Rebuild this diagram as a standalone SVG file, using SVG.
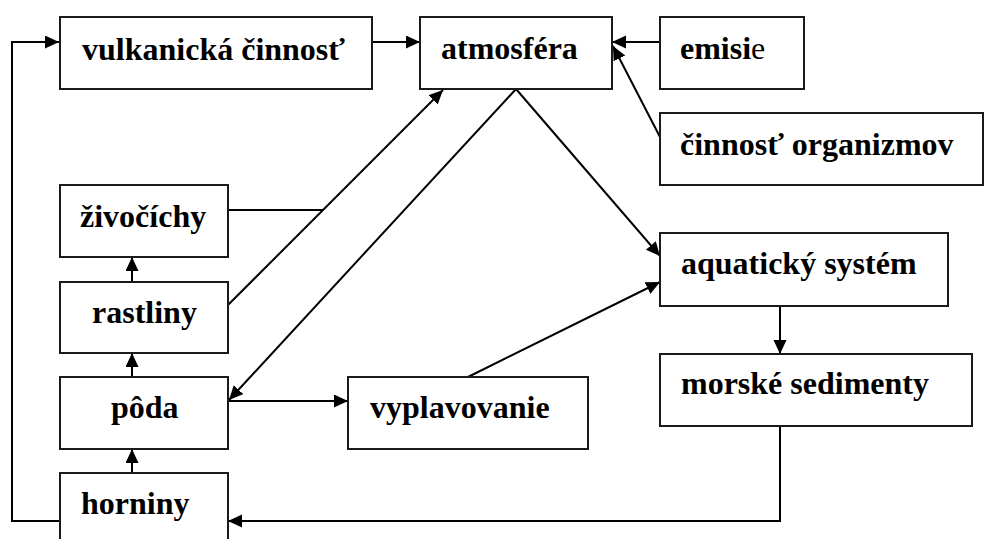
<svg xmlns="http://www.w3.org/2000/svg" width="984" height="539" viewBox="0 0 984 539">
  <style>
    .box { fill: #ffffff; stroke: #1a1a1a; stroke-width: 2; }
    text { font-family: 'Liberation Serif', 'DejaVu Serif', serif; font-size: 32px; font-weight: 700; fill: #000000; }
    tspan.reg { font-weight: 400; }
    .wire { fill: none; stroke: #000000; stroke-width: 2; }
  </style>
  <defs>
    <marker id="arrow" markerUnits="userSpaceOnUse" markerWidth="15" markerHeight="14" refX="14" refY="6.5" orient="auto">
      <path d="M0,0 L14,6.5 L0,13 Z" fill="#000000"/>
    </marker>
  </defs>

  <!-- connectors -->
  <g id="connectors">
    <path class="wire" d="M60,521 H12 V42 H59" marker-end="url(#arrow)"/>
    <path class="wire" d="M372,42 H420" marker-end="url(#arrow)"/>
    <path class="wire" d="M660,42 H612" marker-end="url(#arrow)"/>
    <path class="wire" d="M660,137 L613,46" marker-end="url(#arrow)"/>
    <path class="wire" d="M516,89 L660,256" marker-end="url(#arrow)"/>
    <path class="wire" d="M516,89 L229,400" marker-end="url(#arrow)"/>
    <path class="wire" d="M228,305 L443,90" marker-end="url(#arrow)"/>
    <path class="wire" d="M228,210 H323"/>
    <path class="wire" d="M228,401 H348" marker-end="url(#arrow)"/>
    <path class="wire" d="M468,377 L660,282" marker-end="url(#arrow)"/>
    <path class="wire" d="M780,306 V354" marker-end="url(#arrow)"/>
    <path class="wire" d="M780,426 V521 H228" marker-end="url(#arrow)"/>
    <path class="wire" d="M132,473 V449" marker-end="url(#arrow)"/>
    <path class="wire" d="M132,377 V353" marker-end="url(#arrow)"/>
    <path class="wire" d="M132,282 V257" marker-end="url(#arrow)"/>
  </g>

  <!-- nodes -->
  <g id="vulkanicka-cinnost">
    <rect class="box" x="60" y="17" width="312" height="72"/>
    <text x="82" y="60" font-family="Liberation Serif, serif">vulkanická činnosť</text>
  </g>
  <g id="atmosfera">
    <rect class="box" x="420" y="17" width="192" height="72"/>
    <text x="441" y="59" font-family="Liberation Serif, serif">atmosféra</text>
  </g>
  <g id="emisie">
    <rect class="box" x="660" y="17" width="144" height="72"/>
    <text x="680" y="59" font-family="Liberation Serif, serif">emisi<tspan class="reg">e</tspan></text>
  </g>
  <g id="cinnost-organizmov">
    <rect class="box" x="660" y="113" width="323" height="72"/>
    <text x="680" y="155" font-family="Liberation Serif, serif">činnosť organizmov</text>
  </g>
  <g id="zivocichy">
    <rect class="box" x="60" y="185" width="168" height="72"/>
    <text x="80" y="227" font-family="Liberation Serif, serif">živočíchy</text>
  </g>
  <g id="rastliny">
    <rect class="box" x="60" y="282" width="168" height="71"/>
    <text x="92" y="323" font-family="Liberation Serif, serif">rastliny</text>
  </g>
  <g id="poda">
    <rect class="box" x="60" y="377" width="168" height="72"/>
    <text x="111" y="418" font-family="Liberation Serif, serif">pôda</text>
  </g>
  <g id="horniny">
    <rect class="box" x="60" y="473" width="168" height="80"/>
    <text x="81" y="514" font-family="Liberation Serif, serif">horniny</text>
  </g>
  <g id="vyplavovanie">
    <rect class="box" x="348" y="377" width="240" height="72"/>
    <text x="370" y="418" font-family="Liberation Serif, serif">vyplavovanie</text>
  </g>
  <g id="aquaticky-system">
    <rect class="box" x="660" y="233" width="288" height="73"/>
    <text x="681" y="274" font-family="Liberation Serif, serif">aquatický systém</text>
  </g>
  <g id="morske-sedimenty">
    <rect class="box" x="660" y="354" width="312" height="72"/>
    <text x="681" y="394" font-family="Liberation Serif, serif">morské sedimenty</text>
  </g>
</svg>
